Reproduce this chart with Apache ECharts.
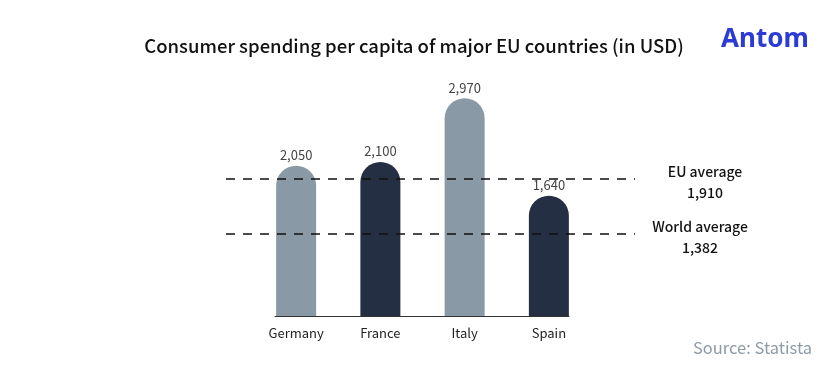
<!DOCTYPE html>
<html>
<head>
<meta charset="utf-8">
<script src="https://cdn.jsdelivr.net/npm/echarts@6/dist/echarts.min.js"></script>
<style>html,body{margin:0;padding:0;background:#fff}#c{width:828px;height:368px}</style>
</head>
<body>
<div id="c"></div>
<script>
const categories = ['Germany', 'France', 'Italy', 'Spain'];
const spending = [2050, 2100, 2970, 1640];
const barColors = ['#8a99a6', '#242f44', '#8a99a6', '#242f44'];
const refNames = ['EU average', 'World average'];
const refValues = [1910, 1382];

const FONT = '"Noto Sans CJK SC", "Noto Sans", sans-serif';
const fmt = v => v.toLocaleString('en-US');

const chart = echarts.init(document.getElementById('c'), null, {renderer: 'canvas'});
chart.setOption({
  animation: false,
  backgroundColor: '#ffffff',
  textStyle: {fontFamily: FONT},
  title: [
    {text: 'Consumer spending per capita of major EU countries (in USD)', left: 'center', top: 32,
     textStyle: {fontFamily: FONT, fontSize: 18.5, fontWeight: 500, color: '#111'}},
    {text: 'Antom', left: 716, top: 22,
     textStyle: {fontFamily: '"Noto Sans", sans-serif', fontSize: 26, fontWeight: 'bold', color: '#2b3bd3'}},
    {text: 'Source: Statista', right: 11, top: 334,
     textStyle: {fontFamily: FONT, fontSize: 16.5, fontWeight: 'normal', color: '#8e9aa5'}}
  ],
  grid: [
    {left: 254, right: 237, top: 96, bottom: 52},
    {left: 275, right: 259, top: 96, bottom: 52},
    {left: 226, right: 193, top: 96, bottom: 52}
  ],
  xAxis: [
    {type: 'category', gridIndex: 0, data: categories,
     axisLine: {show: false}, axisTick: {show: false},
     axisLabel: {margin: 11, fontSize: 13, color: '#222', fontFamily: FONT}},
    {type: 'category', gridIndex: 1, data: categories,
     axisLine: {show: true, lineStyle: {color: '#333', width: 1}}, axisTick: {show: false},
     axisLabel: {show: false}},
    {type: 'value', gridIndex: 2, min: 0, max: 1, show: false}
  ],
  yAxis: [
    {type: 'value', gridIndex: 0, min: 0, max: 3000, show: false},
    {type: 'value', gridIndex: 1, min: 0, max: 3000, show: false},
    {type: 'value', gridIndex: 2, min: 600, max: 2700, show: false}
  ],
  series: [
    {type: 'bar', xAxisIndex: 0, yAxisIndex: 0, barWidth: 40, z: 2,
     data: spending.map((v, i) => ({value: v, itemStyle: {color: barColors[i]}})),
     itemStyle: {borderRadius: [20, 20, 0, 0]},
     label: {show: true, position: 'top', distance: 4, fontSize: 13, color: '#444',
             fontFamily: FONT, formatter: p => fmt(p.value)}},
    {type: 'line', xAxisIndex: 2, yAxisIndex: 2, data: [], z: 5,
     markLine: {
       silent: true, symbol: ['none', 'none'],
       lineStyle: {type: [9, 8], color: '#111', width: 1.6},
       label: {show: true, position: 'end', distance: 10, padding: [6, 0, 0, 0],
               formatter: p => '{a|' + p.name + '}\n{a|' + fmt(p.value) + '}',
               rich: {a: {width: 120, align: 'center', fontSize: 14, fontWeight: 500,
                          color: '#111', lineHeight: 21, fontFamily: FONT}}},
       data: refValues.map((v, i) => ({name: refNames[i], yAxis: v,
                                       label: {distance: i === 0 ? 10 : 5}}))
     }}
  ]
});
</script>
</body>
</html>
